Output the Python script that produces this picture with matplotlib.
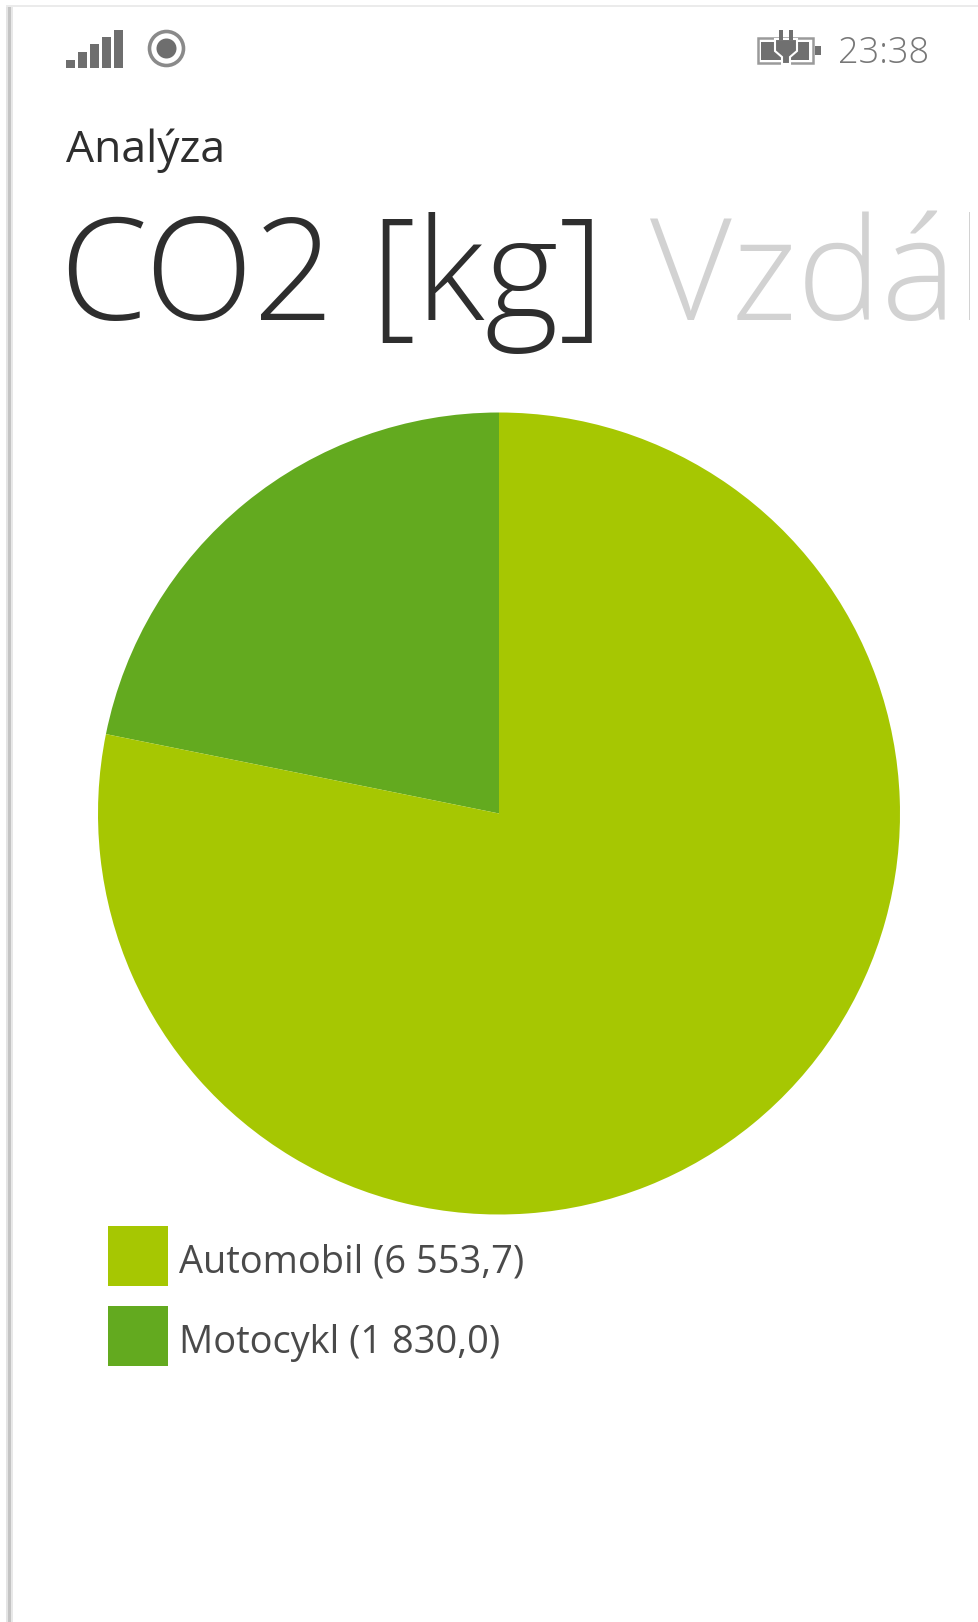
import matplotlib
matplotlib.use("Agg")
import matplotlib.pyplot as plt
from matplotlib.patches import Rectangle, Circle, Polygon

W, H = 979, 1622
categories = ["Motocykl", "Automobil"]
values = [1830.0, 6553.7]
colors = {"Automobil": "#A6C702", "Motocykl": "#63AA1F"}
legend_order = ["Automobil", "Motocykl"]
legend_labels = ["Automobil (6 553,7)", "Motocykl (1 830,0)"]
signal_heights = [8, 16, 24, 31, 38]
clock = "23:38"
app_title = "Analýza"
pivot_active = "CO2 [kg]"
pivot_next = "Vzdálenost"

FONT = "Open Sans"

fig = plt.figure(figsize=(W / 100, H / 100), dpi=100, facecolor="white")

# Page layer in pixel coordinates, origin at the top left
page = fig.add_axes([0, 0, 1, 1])
page.set_xlim(0, W)
page.set_ylim(H, 0)
page.axis("off")

# Window edge shadow
for x, w, c in [(6, 2, "#E4E4E4"), (8, 3, "#C4C4C4"), (11, 2, "#E8E8E8")]:
    page.add_patch(Rectangle((x, 7), w, H - 7, fc=c, ec="none"))
page.add_patch(Rectangle((6, 5), W - 6, 2, fc="#EBEBEB", ec="none"))

# Status bar: signal strength
GREY = "#6E6E6E"
for i, h in enumerate(signal_heights):
    page.add_patch(Rectangle((66 + i * 12, 68 - h), 9.5, h, fc=GREY, ec="none"))

# Status bar: location ring
page.add_patch(Circle((166.5, 48.5), 17, fc="none", ec="#8A8A8A", lw=2.6))
page.add_patch(Circle((166.5, 48.5), 10, fc=GREY, ec="none"))

# Status bar: battery with charging plug
page.add_patch(Rectangle((758, 38), 55, 25, fc="white", ec="#9A9A9A", lw=1.8))
page.add_patch(Rectangle((761.5, 41.5), 48, 18, fc="#707070", ec="none"))
page.add_patch(Rectangle((815, 46), 6, 9, fc="#707070", ec="none"))
page.add_patch(Polygon([(775, 39), (797, 39), (797, 51), (790, 57), (790, 64),
                        (782, 64), (782, 57), (775, 51)], fc="#707070", ec="white", lw=1.5))
for px in (779, 789):
    page.add_patch(Rectangle((px, 30), 3.6, 10, fc="#707070", ec="none"))

page.text(929, 63, clock, fontsize=26, family=FONT, weight=300, color="#777777",
          ha="right", va="baseline")
page.text(66, 151, app_title, fontsize=32, family=FONT, weight=500, color="#2E2E2E",
          ha="left", va="center")

# Pivot headers; the next header runs off behind the right margin
page.text(60, 320, pivot_active, fontsize=102, family=FONT, weight=300,
          color="#2E2E2E", ha="left", va="baseline")
next_header = page.text(650, 320, pivot_next, fontsize=102, family=FONT, weight=300,
                        color="#D2D2D2", ha="left", va="baseline")
next_header.set_clip_path(Rectangle((0, 0), 970, H, transform=page.transData))
next_header.set_clip_on(True)

# Pie chart, starting at twelve o'clock and running counter-clockwise
CX, CY, R = 499, 813.5, 401
pie_ax = fig.add_axes([(CX - R) / W, 1 - (CY + R) / H, 2 * R / W, 2 * R / H])
pie_ax.pie(values, colors=[colors[c] for c in categories], startangle=90,
           counterclock=True, radius=1, wedgeprops={"linewidth": 0})
pie_ax.set_xlim(-1, 1)
pie_ax.set_ylim(-1, 1)
pie_ax.set_aspect("equal")

# Legend
for i, (name, label) in enumerate(zip(legend_order, legend_labels)):
    top = 1226 + i * 80
    page.add_patch(Rectangle((108, top), 60, 60, fc=colors[name], ec="none"))
    page.text(179, top + 37, label, fontsize=27.4, family=FONT, color="#4A4A4A",
              ha="left", va="center")

fig.savefig("out.png", dpi=100, facecolor="white")
